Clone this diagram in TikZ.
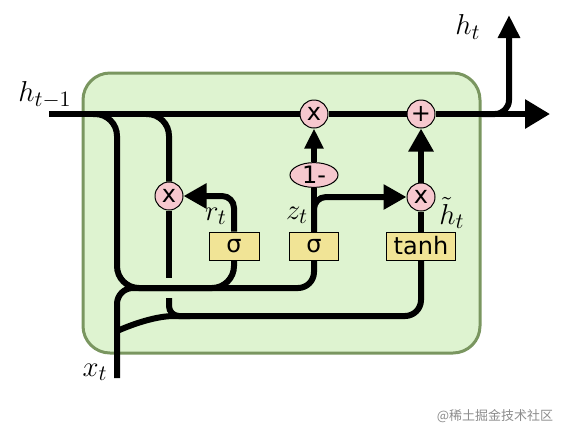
\documentclass[tikz,border=0pt]{standalone}
\usepackage{fontspec}
\usepackage{amsmath}
\newfontfamily\gatefont{DejaVu Sans}
\newfontfamily\cjkfont{Noto Sans CJK SC}
\usetikzlibrary{arrows.meta,shapes.geometric}

\definecolor{cellfill}{RGB}{222,243,208}
\definecolor{celledge}{RGB}{122,150,96}
\definecolor{opfill}{RGB}{246,200,206}
\definecolor{gatefill}{RGB}{241,228,150}

\tikzset{
	flow/.style={line width=3pt},
	bigarrow/.style={flow, -{Triangle[length=12.5pt,width=14pt]}},
	uparrow/.style={flow, -{Triangle[length=11.5pt,width=10.5pt]}},
	gatearrow/.style={flow, -{Triangle[length=11.5pt,width=12pt]}},
	smallarrow/.style={flow, -{Triangle[length=10pt,width=9pt]}},
	opnode/.style={circle, draw, line width=0.5pt, fill=opfill, minimum size=14pt, inner sep=0pt, font=\gatefont\fontsize{12}{14}\selectfont},
	gatebox/.style={rectangle, draw, line width=0.5pt, fill=gatefill, minimum height=14pt, inner sep=0pt, font=\gatefont\fontsize{12}{14}\selectfont},
	varlabel/.style={inner sep=0.5pt, font=\fontsize{15}{18}\selectfont},
}

\begin{document}
\begin{tikzpicture}[x=0.5pt, y=-0.5pt]
		\useasboundingbox (0,0) rectangle (561,435);
		\draw[line width=1.5pt, draw=celledge, fill=cellfill, rounded corners=13.5pt] (83,73) rectangle (480,353);
		
		% operations and gates
		\node[opnode] (mulz) at (314,114) {x};
		\node[opnode] (add) at (421,114) {+};
		\node[opnode] (mulr) at (169,196) {x};
		\node[opnode] (mulh) at (421,197) {x};
		\node[ellipse, draw, line width=0.5pt, fill=opfill, minimum width=24pt, minimum height=12pt, inner sep=0pt, font=\gatefont\fontsize{12}{14}\selectfont] (onem) at (314,175) {1-};
		\node[gatebox, minimum width=25pt] (sigr) at (234,246) {σ};
		\node[gatebox, minimum width=24.5pt] (sigz) at (314,246) {σ};
		\node[gatebox, minimum width=34.5pt] (tanh) at (421,246) {tanh};
		
		\coordinate (hin) at (49,114);
		\coordinate (hnext) at (550,114);
		\coordinate (hup) at (509,15);
		\coordinate (xin) at (117,378);
		
		% cell state line
		\draw[flow] (hin) -- (mulz);
		\draw[flow] (mulz) -- (add);
		\draw[bigarrow] (add) -- (hnext);
		\draw[uparrow, rounded corners=7pt] (482,114) -| (hup);
		
		% inputs to the gates
		\draw[flow, rounded corners=11pt] (93,114) -| (117,288) -| (sigr.south);
		\draw[flow, rounded corners=8pt] (xin) |- (314,288) -- (sigz.south);
		\draw[flow, rounded corners=8pt] (117,331) .. controls (140,321) and (160,316) .. (190,316) -| (tanh.south);
		\draw[flow, rounded corners=11pt] (146,114) -| (mulr.north);
		\draw[flow] (mulr) -- (169,278);
		\draw[flow, rounded corners=5pt] (169,298) |- (190,316);
		
		% gate outputs
		\draw[gatearrow, rounded corners=6pt] (sigr.north) |- (mulr);
		\draw[flow] (sigz) -- (onem);
		\draw[smallarrow] (onem) -- (mulz);
		\draw[gatearrow, rounded corners=6pt] (sigz.north) |- (mulh);
		\draw[flow] (tanh) -- (mulh);
		\draw[gatearrow] (mulh) -- (add);
		
		% labels
		\node[varlabel] (lhprev) at (45,95) {$h_{t-1}$};
		\node[varlabel] (lhnext) at (468,27) {$h_t$};
		\node[varlabel] (lx) at (95,372) {$x_t$};
		\node[varlabel] (lr) at (216,216) {$r_t$};
		\node[varlabel] (lz) at (297,215) {$z_t$};
		\node[varlabel] (lhtil) at (452,213) {$\tilde{h}_t$};
		\node[font=\cjkfont\fontsize{6.5}{8}\selectfont, text=black!45] (mark) at (495,416) {@稀土掘金技术社区};
	\end{tikzpicture}
\end{document}
